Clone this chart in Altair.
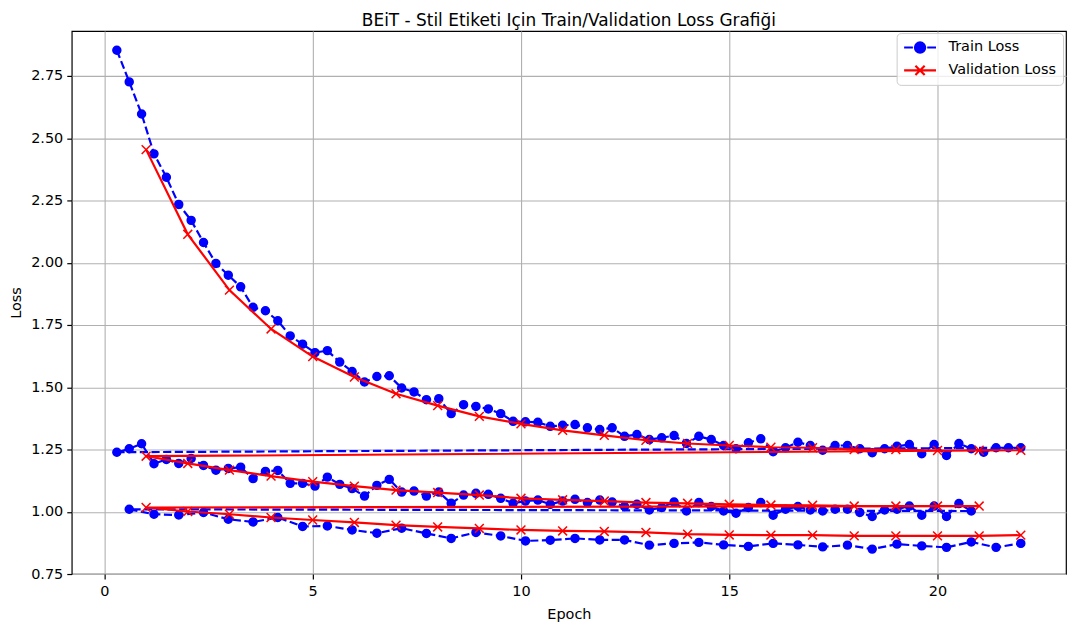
import altair as alt
import numpy as np
import pandas as pd

# ---- data ----
train_run1 = [2.853, 2.726, 2.597, 2.437, 2.343, 2.234, 2.170, 2.081, 1.997, 1.950,
              1.903, 1.821, 1.807, 1.767, 1.706, 1.673, 1.639, 1.647, 1.601, 1.563,
              1.521, 1.543, 1.546, 1.497, 1.481, 1.450, 1.454, 1.394, 1.430, 1.423,
              1.413, 1.394, 1.363, 1.361, 1.359, 1.343, 1.347, 1.350, 1.337, 1.330,
              1.337, 1.303, 1.310, 1.290, 1.297, 1.306, 1.274, 1.303, 1.290, 1.266,
              1.253, 1.277, 1.293, 1.241, 1.257, 1.279, 1.266, 1.247, 1.266, 1.266,
              1.253, 1.237, 1.253, 1.263, 1.270, 1.233, 1.270, 1.226, 1.274, 1.253,
              1.239, 1.257, 1.257, 1.257]
train_run2 = [1.239, 1.253, 1.273, 1.193, 1.210, 1.194, 1.214, 1.186, 1.167, 1.174,
              1.179, 1.133, 1.162, 1.166, 1.114, 1.114, 1.103, 1.139, 1.110, 1.093,
              1.063, 1.106, 1.130, 1.079, 1.083, 1.063, 1.079, 1.034, 1.067, 1.074,
              1.070, 1.054, 1.034, 1.043, 1.047, 1.030, 1.043, 1.050, 1.037, 1.047,
              1.039, 1.021, 1.030, 1.007, 1.017, 1.039, 1.003, 1.037, 1.021, 1.003,
              0.994, 1.017, 1.037, 0.986, 1.010, 1.021, 1.007, 1.003, 1.010, 1.010,
              0.997, 0.981, 1.007, 1.010, 1.023, 0.986, 1.023, 0.981, 1.033, 1.003]
train_run3 = [1.010, 0.990, 0.987, 0.997, 0.970, 0.959, 0.977, 0.941, 0.943, 0.927,
              0.914, 0.934, 0.913, 0.893, 0.917, 0.903, 0.883, 0.886, 0.893, 0.887,
              0.887, 0.866, 0.873, 0.877, 0.867, 0.861, 0.873, 0.867, 0.859, 0.866,
              0.850, 0.870, 0.863, 0.857, 0.879, 0.857, 0.873]

val_run1 = [2.454, 2.114, 1.890, 1.734, 1.623, 1.541, 1.474, 1.426, 1.383, 1.353,
            1.327, 1.307, 1.287, 1.274, 1.266, 1.259, 1.257, 1.250, 1.250, 1.246,
            1.247, 1.247]
val_run2 = [1.223, 1.194, 1.167, 1.143, 1.121, 1.103, 1.087, 1.077, 1.067, 1.054,
            1.048, 1.043, 1.037, 1.034, 1.030, 1.027, 1.026, 1.023, 1.023, 1.023,
            1.023]
val_run3 = [1.017, 1.001, 0.990, 0.977, 0.967, 0.957, 0.946, 0.939, 0.933, 0.927,
            0.923, 0.921, 0.917, 0.910, 0.907, 0.906, 0.906, 0.903, 0.903, 0.903,
            0.903, 0.906]

# logging step (epochs per train point) in each run
train_steps = [22 / 74, 22 / 74, 22 / 37]

series_names = ["Train Loss", "Validation Loss"]
series_colors = ["#0000ff", "#ff0000"]
x_ticks = [0, 5, 10, 15, 20]
y_ticks = [0.75, 1.00, 1.25, 1.50, 1.75, 2.00, 2.25, 2.50, 2.75]

# ---- tables ----
t_epochs, t_loss = [], []
for run, step in zip([train_run1, train_run2, train_run3], train_steps):
    t_epochs += list(np.arange(1, len(run) + 1) * step)
    t_loss += run
train_df = pd.DataFrame({"epoch": t_epochs, "loss": t_loss, "i": range(len(t_loss))})

v_epochs, v_loss = [], []
for run in [val_run1, val_run2, val_run3]:
    v_epochs += list(range(1, len(run) + 1))
    v_loss += run
val_df = pd.DataFrame({"epoch": v_epochs, "loss": v_loss, "i": range(len(v_loss))})

X_PATH = "M-1,-1L1,1M-1,1L1,-1"
TRAIN_GLYPH = ("M-1,0L-0.45,0M0.45,0L1,0"
               "M-0.32,0A0.32,0.32 0 1,1 0.32,0A0.32,0.32 0 1,1 -0.32,0Z")
VAL_GLYPH = "M-1,0L1,0M-0.29,-0.29L0.29,0.29M-0.29,0.29L0.29,-0.29"

x_enc = alt.X("epoch:Q",
              scale=alt.Scale(domain=[-0.785, 23.085], nice=False, zero=False),
              axis=alt.Axis(values=x_ticks, format="d", title="Epoch",
                            labelPadding=6, titlePadding=9))
y_enc = alt.Y("loss:Q",
              scale=alt.Scale(domain=[0.75, 2.93], nice=False, zero=False),
              axis=alt.Axis(values=y_ticks, format=".2f", title="Loss", titlePadding=7))

train_line = alt.Chart(train_df).mark_line(
    color=series_colors[0], strokeWidth=2.2, strokeDash=[8.2, 3.5]
).encode(x=x_enc, y=y_enc, order="i:Q")
train_pts = alt.Chart(train_df).mark_point(
    shape="circle", filled=True, fill=series_colors[0], stroke=series_colors[0],
    strokeWidth=1.5, size=64, opacity=1
).encode(x=x_enc, y=y_enc)

val_line = alt.Chart(val_df).mark_line(
    color=series_colors[1], strokeWidth=2.2
).encode(x=x_enc, y=y_enc, order="i:Q")
val_pts = alt.Chart(val_df).mark_point(
    shape=X_PATH, filled=False, stroke=series_colors[1], strokeWidth=1.5,
    size=79, opacity=1
).encode(x=x_enc, y=y_enc)

leg_df = pd.DataFrame({"series": series_names})
legend_def = alt.Legend(
    title=None, orient="none", legendX=828, legendY=2, padding=6,
    fillColor="rgba(255,255,255,0.8)", strokeColor="#cccccc", cornerRadius=4,
    labelFont="DejaVu Sans", labelFontSize=14.5, labelColor="black", labelOffset=11,
    symbolSize=1024, symbolStrokeWidth=2.2, symbolOpacity=1,
    clipHeight=17, rowPadding=6,
)
legend_layer = alt.Chart(leg_df).mark_point(opacity=0, size=1024, filled=True).encode(
    shape=alt.Shape("series:N",
                    scale=alt.Scale(domain=series_names, range=[TRAIN_GLYPH, VAL_GLYPH]),
                    legend=legend_def),
    fill=alt.Fill("series:N", scale=alt.Scale(domain=series_names, range=series_colors),
                  legend=legend_def),
    stroke=alt.Stroke("series:N", scale=alt.Scale(domain=series_names, range=series_colors),
                      legend=legend_def),
)

chart = alt.layer(train_line, train_pts, val_line, val_pts, legend_layer).properties(
    width=998, height=545,
    title=alt.TitleParams("BEiT - Stil Etiketi Için Train/Validation Loss Grafiği",
                          anchor="middle", frame="group", baseline="alphabetic",
                          offset=5, dy=17),
    autosize=alt.AutoSizeParams(type="none"),
    padding={"left": 64, "top": 22, "right": 2, "bottom": 47},
    background="white",
).configure_view(
    stroke="black", strokeWidth=1.2
).configure_axis(
    labelFont="DejaVu Sans", labelFontSize=14.5, labelColor="black", labelPadding=4,
    titleFont="DejaVu Sans", titleFontSize=14.5, titleFontWeight="normal", titleColor="black",
    tickColor="black", tickSize=5, tickWidth=1.2, domain=False,
    gridColor="#b0b0b0", gridWidth=1.1,
).configure_title(
    font="DejaVu Sans", fontSize=17, fontWeight="normal", color="black"
)

chart.save("out.html", embed_options={"renderer": "svg", "actions": False})
